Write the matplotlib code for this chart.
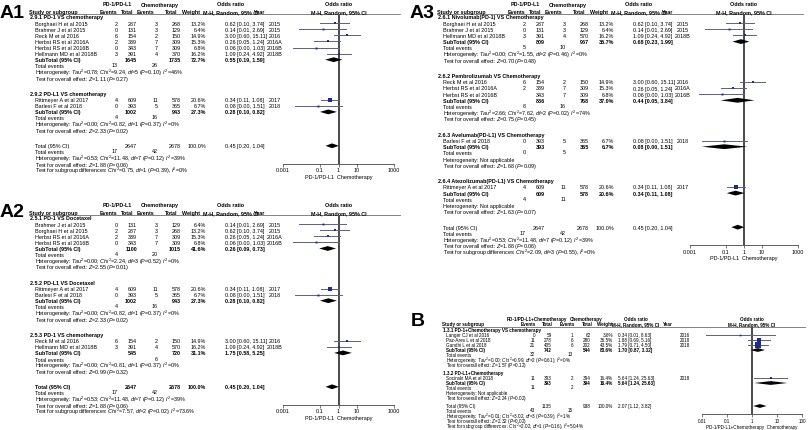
import matplotlib
matplotlib.use("Agg")
import matplotlib.pyplot as plt
import numpy as np

plt.rcParams["font.family"] = ["Liberation Sans", "DejaVu Sans"]
plt.rcParams["mathtext.fontset"] = "custom"
plt.rcParams["mathtext.rm"] = "Liberation Sans"
plt.rcParams["mathtext.it"] = "Liberation Sans:italic"
plt.rcParams["mathtext.bf"] = "Liberation Sans:bold"

W, H = 810, 431

# study rows: name, events, total, events, total, weight %, OR, lower, upper, year
# subtotal rows: total, total, weight %, OR, lower, upper
A1_PD1 = [
    ("Borghaei H et al 2015", 2, 287, 3, 268, 13.2, 0.62, 0.10, 3.74, "2015"),
    ("Brahmer J et al 2015", 0, 131, 3, 129, 6.4, 0.14, 0.007, 2.69, "2015"),
    ("Reck M et al 2016", 6, 154, 2, 150, 14.9, 3.00, 0.60, 15.11, "2016"),
    ("Herbst RS et al 2016A", 2, 339, 7, 309, 15.3, 0.26, 0.05, 1.24, "2016A"),
    ("Herbst RS et al 2016B", 0, 343, 7, 309, 6.8, 0.06, 0.0033, 1.03, "2016B"),
    ("Hellmann MD et al 2018B", 3, 391, 4, 370, 16.2, 1.09, 0.24, 4.92, "2018B"),
]
A1_PD1_SUB = (1645, 1735, 72.7, 0.55, 0.19, 1.59)
A1_PD1_EVENTS = (13, 26)
A1_PD1_HET = r"Heterogeneity: $Tau^2$=0.78; $Chi^2$=9.24, $df$=5 ($P$=0.10); $I^2$=46%"
A1_PD1_TEST = r"Test for overall effect: $Z$=1.11 ($P$=0.27)"

A1_PDL1 = [
    ("Rittmeyer A et al 2017", 4, 609, 11, 578, 20.6, 0.34, 0.11, 1.08, "2017"),
    ("Barlesi F et al 2018", 0, 393, 5, 365, 6.7, 0.08, 0.0046, 1.51, "2018"),
]
A1_PDL1_SUB = (1002, 943, 27.3, 0.28, 0.10, 0.82)
A1_PDL1_EVENTS = (4, 16)
A1_PDL1_HET = r"Heterogeneity: $Tau^2$=0.00; $Chi^2$=0.82, $df$=1 ($P$=0.37); $I^2$=0%"
A1_PDL1_TEST = r"Test for overall effect: $Z$=2.33 ($P$=0.02)"

A_TOTAL = (2647, 2678, 100.0, 0.45, 0.20, 1.04)
A_TOTAL_EVENTS = (17, 42)
A_TOTAL_HET = r"Heterogeneity: $Tau^2$=0.53; $Chi^2$=11.48, $df$=7 ($P$=0.12); $I^2$=39%"
A_TOTAL_TEST = r"Test for overall effect: $Z$=1.88 ($P$=0.06)"
A1_SUBGROUP = r"Test for subgroup differences: $Chi^2$=0.75, $df$=1 ($P$=0.39), $I^2$=0%"

A2_DOC_PD1 = [
    ("Brahmer J et al 2015", 0, 131, 3, 129, 6.4, 0.14, 0.007, 2.69, "2015"),
    ("Borghaei H et al 2015", 2, 287, 3, 268, 13.2, 0.62, 0.10, 3.74, "2015"),
    ("Herbst RS et al 2016A", 2, 339, 7, 309, 15.3, 0.26, 0.05, 1.24, "2016A"),
    ("Herbst RS et al 2016B", 0, 343, 7, 309, 6.8, 0.06, 0.0033, 1.03, "2016B"),
]
A2_DOC_PD1_SUB = (1100, 1015, 41.6, 0.26, 0.09, 0.73)
A2_DOC_PD1_EVENTS = (4, 20)
A2_DOC_PD1_HET = r"Heterogeneity: $Tau^2$=0.00; $Chi^2$=2.24, $df$=3 ($P$=0.52); $I^2$=0%"
A2_DOC_PD1_TEST = r"Test for overall effect: $Z$=2.55 ($P$=0.01)"

A2_DOC_PDL1 = A1_PDL1
A2_DOC_PDL1_SUB = A1_PDL1_SUB
A2_DOC_PDL1_EVENTS = A1_PDL1_EVENTS
A2_DOC_PDL1_HET = A1_PDL1_HET
A2_DOC_PDL1_TEST = A1_PDL1_TEST

A2_CHEMO = [
    ("Reck M et al 2016", 6, 154, 2, 150, 14.9, 3.00, 0.60, 15.11, "2016"),
    ("Hellmann MD et al 2018B", 3, 391, 4, 570, 16.2, 1.09, 0.24, 4.92, "2018B"),
]
A2_CHEMO_SUB = (545, 720, 31.1, 1.75, 0.58, 5.25)
A2_CHEMO_EVENTS = (None, 6)
A2_CHEMO_HET = r"Heterogeneity: $Tau^2$=0.00; $Chi^2$=0.81, $df$=1 ($P$=0.37); $I^2$=0%"
A2_CHEMO_TEST = r"Test for overall effect: $Z$=0.99 ($P$=0.32)"
A2_SUBGROUP = r"Test for subgroup differences: $Chi^2$=7.57, $df$=2 ($P$=0.02), $I^2$=73.6%"

A3_NIVO = [
    ("Borghaei H et al 2015", 2, 287, 3, 268, 13.2, 0.62, 0.10, 3.74, "2015"),
    ("Brahmer J et al 2015", 0, 131, 3, 129, 6.4, 0.14, 0.007, 2.69, "2015"),
    ("Hellmann MD et al 2018B", 3, 391, 4, 570, 16.2, 1.09, 0.24, 4.92, "2018B"),
]
A3_NIVO_SUB = (809, 967, 35.7, 0.68, 0.23, 1.99)
A3_NIVO_EVENTS = (5, 10)
A3_NIVO_HET = r"Heterogeneity: $Tau^2$=0.00; $Chi^2$=1.55, $df$=2 ($P$=0.46); $I^2$=0%"
A3_NIVO_TEST = r"Test for overall effect: $Z$=0.70 ($P$=0.48)"

A3_PEMBRO = [
    ("Reck M et al 2016", 6, 154, 2, 150, 14.9, 3.00, 0.60, 15.11, "2016"),
    ("Herbst RS et al 2016A", 2, 339, 7, 309, 15.3, 0.26, 0.05, 1.24, "2016A"),
    ("Herbst RS et al 2016B", None, 343, 7, 309, 6.8, 0.06, 0.0033, 1.03, "2016B"),
]
A3_PEMBRO_SUB = (836, 768, 37.0, 0.44, 0.05, 3.84)
A3_PEMBRO_EVENTS = (8, 16)
A3_PEMBRO_HET = r"Heterogeneity: $Tau^2$=2.66; $Chi^2$=7.62, $df$=2 ($P$=0.02); $I^2$=74%"
A3_PEMBRO_TEST = r"Test for overall effect: $Z$=0.75 ($P$=0.45)"

A3_AVE = [("Barlesi F et al 2018", 0, 393, 5, 365, 6.7, 0.08, 0.0046, 1.51, "2018")]
A3_AVE_SUB = (393, 365, 6.7, 0.08, 0.0046, 1.51)
A3_AVE_EVENTS = (0, 5)
A3_AVE_TEST = r"Test for overall effect: $Z$=1.68 ($P$=0.09)"

A3_ATEZO = [("Rittmeyer A et al 2017", 4, 609, 11, 578, 20.6, 0.34, 0.11, 1.08, "2017")]
A3_ATEZO_SUB = (609, 578, 20.6, 0.34, 0.11, 1.08)
A3_ATEZO_EVENTS = (4, 11)
A3_ATEZO_TEST = r"Test for overall effect: $Z$=1.63 ($P$=0.07)"
A3_SUBGROUP = r"Test for subgroup differences: $Chi^2$=2.09, $df$=3 ($P$=0.55), $I^2$=0%"

B_PD1 = [
    ("Langer CJ et al 2016", 0, 59, 1, 62, 3.6, 0.34, 0.014, 8.63, "2016"),
    ("Paz-Ares L et al 2018", 11, 278, 6, 280, 36.5, 1.88, 0.69, 5.16, "2018"),
    ("Gandhi L et al 2018", 21, 405, 6, 202, 43.5, 1.79, 0.71, 4.50, "2018"),
]
B_PD1_SUB = (742, 544, 83.6, 1.70, 0.87, 3.32)
B_PD1_EVENTS = (32, 13)
B_PD1_HET = r"Heterogeneity: $Tau^2$=0.00; $Chi^2$=0.99, $df$=2 ($P$=0.61); $I^2$=0%"
B_PD1_TEST = r"Test for overall effect: $Z$=1.57 ($P$=0.12)"

B_PDL1 = [("Socinski MA et al 2018", 11, 393, 2, 394, 16.4, 5.64, 1.24, 25.63, "2018")]
B_PDL1_SUB = (393, 394, 16.4, 5.64, 1.24, 25.63)
B_PDL1_EVENTS = (11, 2)
B_PDL1_TEST = r"Test for overall effect: $Z$=2.24 ($P$=0.02)"

B_TOTAL = (1135, 938, 100.0, 2.07, 1.12, 3.82)
B_TOTAL_EVENTS = (43, 15)
B_TOTAL_HET = r"Heterogeneity: $Tau^2$=0.01; $Chi^2$=3.02, $df$=3 ($P$=0.39); $I^2$=1%"
B_TOTAL_TEST = r"Test for overall effect: $Z$=2.32 ($P$=0.02)"
B_SUBGROUP = r"Test for subgroup differences: $Chi^2$=2.02, $df$=1 ($P$=0.16), $I^2$=50.4%"

NOT_APPLICABLE = "Heterogeneity: Not applicable"
A_TICKS = [0.001, 0.1, 1, 10, 1000]
A_TICKLABELS = ["0.001", "0.1", "1", "10", "1000"]
B_TICKS = [0.01, 0.1, 1, 10, 100]
B_TICKLABELS = ["0.01", "0.1", "1", "10", "100"]

SQ_COLOR = "#1f2a8a"
CI_COLOR = "#5f5f86"
LINE_GRAY = "#6f6f6f"
NULL_LINE = "#4a4a4a"

COLS_A = dict(head=30, name=35, ev1=118, n1=137, ev2=158, n2=181, w=206, orx=225,
              year=275, fx0=283, fx1=394, end=400,
              h_grp1=117, h_grp2=160, h_or=231, h_ev1=108, h_n1=127, h_ev2=145,
              h_n2=171, h_w=191, h_year=260)


def shift(cols, dx):
    return {k: v + dx for k, v in cols.items()}


COLS_A3 = shift(COLS_A, 408)
COLS_A3.update(fx0=690, fx1=798, end=803)
COLS_B = dict(head=443, name=446, ev1=535, n1=552, ev2=573, n2=591, w=613, orx=618,
              year=685, fx0=702, fx1=802, end=805,
              h_grp1=537, h_grp2=586, h_or=636, h_ev1=528, h_n1=547, h_ev2=567,
              h_n2=587, h_w=605, h_year=668)


def fmt_ci(o, lo, hi):
    return f"{o:.2f} [{lo:.2f}, {hi:.2f}]"


def draw_panel(fig, tx, p):
    c = p["cols"]
    fs = p["fs"]
    pitch, gap = p["pitch"], p["gap"]
    y0 = p["y0"]

    def t(x, y, s, ha="left", bold=False):
        tx.text(x, y, s, fontsize=fs, ha=ha, va="center",
                fontweight="bold" if bold else "normal")

    tx.text(p["lx"], p["ly"], p["label"], fontsize=14, fontweight="bold", va="center")

    # column headers
    yh1, yh2 = y0 - p["h1"], y0 - p["h2"]
    t(c["h_grp1"], yh1, p["grp1"], "center", True)
    t(c["h_grp2"], yh1, p["grp2"], "center", True)
    t(c["h_or"], yh1, "Odds ratio", "center", True)
    t(c["head"] - 1, yh2, "Study or subgroup", bold=True)
    for key, s in [("h_ev1", "Events"), ("h_n1", "Total"), ("h_ev2", "Events"),
                   ("h_n2", "Total"), ("h_w", "Weight"), ("h_or", "M-H, Random, 95% CI"),
                   ("h_year", "Year")]:
        t(c[key], yh2, s, "center", True)
    uy = y0 - p["uline"]
    tx.plot([c["head"] - 1, c["end"]], [uy, uy], color=LINE_GRAY, lw=0.6)

    # build row list
    rows = []
    y = y0
    for title, studies, sub, ev, het, test in p["groups"]:
        rows.append(("group", title, y)); y += pitch
        for s in studies:
            rows.append(("study", s, y)); y += pitch
        rows.append(("sub", sub, y)); y += pitch
        rows.append(("events", ev, y)); y += pitch
        rows.append(("text", het, y)); y += pitch
        rows.append(("text", test, y)); y += pitch
        y += gap
    total_y = y
    rows.append(("total", p["total"], y)); y += pitch
    rows.append(("events", p["total_events"], y)); y += pitch
    rows.append(("text", p["total_het"], y)); y += pitch
    rows.append(("text", p["total_test"], y)); y += pitch
    rows.append(("text", p["subgroup"], y))

    # forest axes, y measured in figure pixel rows
    top, bottom = uy, total_y + p["axis_off"]
    lo_t, hi_t = p["ticks"][0], p["ticks"][-1]
    fa = fig.add_axes([c["fx0"] / W, 1 - bottom / H, (c["fx1"] - c["fx0"]) / W,
                       (bottom - top) / H])
    fa.set_xscale("log")
    fa.set_xlim(lo_t, hi_t)
    fa.set_ylim(bottom, top)
    fa.set_facecolor("none")
    for side in ["top", "left", "right"]:
        fa.spines[side].set_visible(False)
    fa.spines["bottom"].set_color("#444444")
    fa.spines["bottom"].set_linewidth(0.6)
    fa.set_yticks([])
    fa.set_xticks(p["ticks"])
    fa.set_xticklabels(p["ticklabels"])
    fa.minorticks_off()
    fa.tick_params(axis="x", labelsize=fs, length=1.8, width=0.5, pad=0.8,
                   color="#444444")
    fa.set_xlabel(p["xlabel"], fontsize=fs, labelpad=0.8)

    # line of no effect (OR = 1), drawn on the panel's log axis
    fa.vlines(1, bottom, top, colors=NULL_LINE, lw=1.4, zorder=2.2)
    frac = (np.log10(1) - np.log10(lo_t)) / (np.log10(hi_t) - np.log10(lo_t))
    x1 = c["fx0"] + (c["fx1"] - c["fx0"]) * frac
    t(x1, yh1, "Odds ratio", "center", True)
    t(x1, yh2, "M-H, Random, 95% CI", "center", True)

    def diamond(o, lo, hi, yy):
        h = p["dh"]
        fa.fill([lo, o, hi, o], [yy, yy - h, yy, yy + h], color="black", lw=0, zorder=3)

    for kind, d, yy in rows:
        if kind == "group":
            t(c["head"], yy, d, bold=True)
        elif kind == "study":
            name, e1, n1, e2, n2, w, o, lo, hi, yr = d
            t(c["name"], yy, name)
            if e1 is not None:
                t(c["ev1"], yy, str(e1), "right")
            t(c["n1"], yy, str(n1), "right")
            t(c["ev2"], yy, str(e2), "right")
            t(c["n2"], yy, str(n2), "right")
            t(c["w"], yy, f"{w:.1f}%", "right")
            t(c["orx"], yy, fmt_ci(o, lo, hi))
            t(c["year"], yy, yr, "center")
            fa.plot([lo, hi], [yy, yy], color=CI_COLOR, lw=0.7, zorder=2.5)
            fa.plot([o], [yy], "s", color=SQ_COLOR, ms=1.0 + w * 0.06, mew=0, zorder=4)
        elif kind in ("sub", "total"):
            n1, n2, w, o, lo, hi = d
            bold = kind == "sub" or p["total_bold"]
            t(c["name"], yy, "SubTotal (95% CI)" if kind == "sub" else "Total (95% CI)",
              bold=bold)
            t(c["n1"], yy, str(n1), "right", bold)
            t(c["n2"], yy, str(n2), "right", bold)
            t(c["w"], yy, f"{w:.1f}%", "right", bold)
            t(c["orx"], yy, fmt_ci(o, lo, hi), bold=bold)
            diamond(o, lo, hi, yy)
        elif kind == "events":
            t(c["name"], yy, "Total events")
            e1, e2 = d
            if e1 is not None:
                t(c["ev1"], yy - 1, str(e1), "right")
            t(c["ev2"], yy - 1, str(e2), "right")
        else:
            t(c["name"], yy, d)


PANEL_A = dict(fs=3.9, pitch=6.1, gap=9.5, axis_off=18, dh=2.4, h1=13, h2=5.8, uline=3.2,
               grp1="PD-1/PD-L1", grp2="Chemotherapy", ticks=A_TICKS,
               ticklabels=A_TICKLABELS, xlabel="PD-1/PD-L1  Chemotherapy",
               total=A_TOTAL, total_events=A_TOTAL_EVENTS, total_het=A_TOTAL_HET,
               total_test=A_TOTAL_TEST)

PANELS = [
    dict(PANEL_A, label="A1", lx=0, ly=13, y0=18, cols=COLS_A, total_bold=False,
         subgroup=A1_SUBGROUP,
         groups=[("2.9.1 PD-1 VS chemotherapy", A1_PD1, A1_PD1_SUB, A1_PD1_EVENTS,
                  A1_PD1_HET, A1_PD1_TEST),
                 ("2.9.2 PD-L1 VS chemotherapy", A1_PDL1, A1_PDL1_SUB, A1_PDL1_EVENTS,
                  A1_PDL1_HET, A1_PDL1_TEST)]),
    dict(PANEL_A, label="A2", lx=0, ly=213, y0=219, cols=COLS_A, total_bold=True,
         subgroup=A2_SUBGROUP,
         groups=[("2.5.1 PD-1 VS Docetaxel", A2_DOC_PD1, A2_DOC_PD1_SUB, A2_DOC_PD1_EVENTS,
                  A2_DOC_PD1_HET, A2_DOC_PD1_TEST),
                 ("2.5.2 PD-L1 VS Docetaxel", A2_DOC_PDL1, A2_DOC_PDL1_SUB,
                  A2_DOC_PDL1_EVENTS, A2_DOC_PDL1_HET, A2_DOC_PDL1_TEST),
                 ("2.5.3 PD-1 VS chemotherapy", A2_CHEMO, A2_CHEMO_SUB, A2_CHEMO_EVENTS,
                  A2_CHEMO_HET, A2_CHEMO_TEST)]),
    dict(PANEL_A, label="A3", lx=410, ly=13, y0=18, cols=COLS_A3, total_bold=False,
         subgroup=A3_SUBGROUP, pitch=6.15, gap=9.5,
         groups=[("2.6.1 Nivolumab(PD-1) VS Chemotherapy", A3_NIVO, A3_NIVO_SUB,
                  A3_NIVO_EVENTS, A3_NIVO_HET, A3_NIVO_TEST),
                 ("2.6.2 Pembrolizumab VS Chemotherapy", A3_PEMBRO, A3_PEMBRO_SUB,
                  A3_PEMBRO_EVENTS, A3_PEMBRO_HET, A3_PEMBRO_TEST),
                 ("2.6.3 Avelumab(PD-L1) VS Chemotherapy", A3_AVE, A3_AVE_SUB,
                  A3_AVE_EVENTS, NOT_APPLICABLE, A3_AVE_TEST),
                 ("2.6.4 Atezolizumab(PD-L1) VS Chemotherapy", A3_ATEZO, A3_ATEZO_SUB,
                  A3_ATEZO_EVENTS, NOT_APPLICABLE, A3_ATEZO_TEST)]),
    dict(label="B", lx=411, ly=322, y0=331, cols=COLS_B, fs=3.3, pitch=5.0, gap=3.0,
         axis_off=8, dh=1.9, h1=11.5, h2=6, uline=3.4, total_bold=False,
         grp1="PD-1/PD-L1+Chemotherapy", grp2="Chemotherapy", ticks=B_TICKS,
         ticklabels=B_TICKLABELS, xlabel="PD-1/PD-L1+Chemotherapy  Chemotherapy",
         total=B_TOTAL, total_events=B_TOTAL_EVENTS,
         total_het=B_TOTAL_HET, total_test=B_TOTAL_TEST, subgroup=B_SUBGROUP,
         groups=[("1.3.1 PD-1+Chemotherapy VS chemotherapy", B_PD1, B_PD1_SUB,
                  B_PD1_EVENTS, B_PD1_HET, B_PD1_TEST),
                 ("1.3.2 PD-L1+Chemotherapy", B_PDL1, B_PDL1_SUB, B_PDL1_EVENTS,
                  NOT_APPLICABLE, B_PDL1_TEST)]),
]

fig = plt.figure(figsize=(W / 100, H / 100), dpi=100)
tx = fig.add_axes([0, 0, 1, 1])
tx.set_xlim(0, W)
tx.set_ylim(H, 0)
tx.axis("off")

for panel in PANELS:
    draw_panel(fig, tx, panel)

fig.savefig("out.png", dpi=100, facecolor="white")
